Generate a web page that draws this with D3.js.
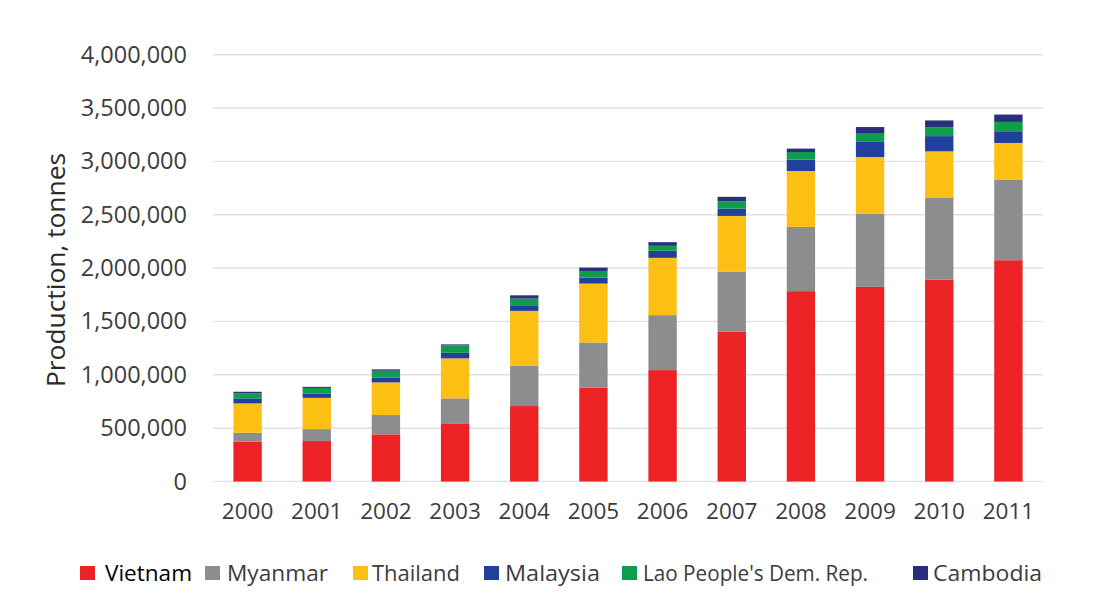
<!DOCTYPE html>
<html>
<head>
<meta charset="utf-8">
<script src="https://cdn.jsdelivr.net/npm/d3@7"></script>
<style>
  html, body { margin: 0; padding: 0; background: #fff; }
  svg { display: block; }
  text { font-family: "Open Sans", "Liberation Sans", sans-serif; }
</style>
</head>
<body>
<svg id="chart" width="1100" height="606"></svg>
<script>
// Production by country, tonnes
const years = ["2000","2001","2002","2003","2004","2005","2006","2007","2008","2009","2010","2011"];
const vietnam  = [373000, 379000, 442000, 545000, 707000, 878000, 1044000, 1403000, 1784000, 1824000, 1893000, 2074000];
const myanmar  = [84000, 112000, 181000, 234000, 377000, 425000, 515000, 562000, 602000, 687000, 764000, 756000];
const thailand = [275000, 293000, 306000, 375000, 515000, 552000, 537000, 524000, 524000, 530000, 437000, 343000];
const malaysia = [47000, 41000, 43000, 52000, 53000, 56000, 66000, 69000, 107000, 147000, 143000, 103000];
const lao      = [47000, 52000, 66000, 69000, 62000, 62000, 47000, 69000, 71000, 78000, 84000, 94000];
const cambodia = [15000, 10000, 13000, 10000, 31000, 32000, 34000, 41000, 32000, 56000, 63000, 69000];
const seriesNames = ["Vietnam", "Myanmar", "Thailand", "Malaysia", "Lao People's Dem. Rep.", "Cambodia"];
const yTicks = [0, 500000, 1000000, 1500000, 2000000, 2500000, 3000000, 3500000, 4000000];

const seriesValues = [vietnam, myanmar, thailand, malaysia, lao, cambodia];
const colors = ["#ec2224", "#8c8d8f", "#fcbf14", "#213f9c", "#0f9d4b", "#2a2f7c"];

const table = years.map((y, i) => {
  const row = { year: y };
  seriesNames.forEach((n, k) => { row[n] = seriesValues[k][i]; });
  return row;
});

const svg = d3.select("#chart");
const plot = { left: 213, right: 1043, top: 54.7, bottom: 481.5 };

const x = d3.scaleBand()
  .domain(years)
  .range([plot.left, plot.right])
  .paddingInner(0.59)
  .paddingOuter(0.295);

const y = d3.scaleLinear()
  .domain([0, 4000000])
  .range([plot.bottom, plot.top]);

// horizontal gridlines
svg.append("g")
  .selectAll("line")
  .data(yTicks)
  .join("line")
  .attr("x1", plot.left)
  .attr("x2", plot.right)
  .attr("y1", d => y(d))
  .attr("y2", d => y(d))
  .attr("stroke", "#e2e2e2")
  .attr("stroke-width", 1.5);

// y axis labels
const yAxis = d3.axisLeft(y)
  .tickValues(yTicks)
  .tickFormat(d3.format(","))
  .tickSize(0)
  .tickPadding(26);
const gy = svg.append("g")
  .attr("transform", `translate(${plot.left},0)`)
  .call(yAxis);
gy.select(".domain").remove();
gy.selectAll("text")
  .attr("font-size", 23.5)
  .attr("font-family", "'Open Sans', sans-serif")
  .attr("fill", "#3c3c3c");

// x axis labels
const xAxis = d3.axisBottom(x).tickSize(0).tickPadding(22);
const gx = svg.append("g")
  .attr("transform", `translate(0,${plot.bottom})`)
  .call(xAxis);
gx.select(".domain").remove();
gx.selectAll("text")
  .attr("font-size", 22.5)
  .attr("font-family", "'Open Sans', sans-serif")
  .attr("fill", "#3c3c3c");

// stacked bars
const stack = d3.stack().keys(seriesNames);
const layers = stack(table);

svg.append("g")
  .selectAll("g")
  .data(layers)
  .join("g")
  .attr("fill", (d, i) => colors[i])
  .selectAll("rect")
  .data(d => d)
  .join("rect")
  .attr("x", d => x(d.data.year))
  .attr("width", x.bandwidth())
  .attr("y", d => y(d[1]))
  .attr("height", d => y(d[0]) - y(d[1]));

// axis title
svg.append("text")
  .attr("transform", `translate(65,270) rotate(-90)`)
  .attr("text-anchor", "middle")
  .attr("font-size", 25)
  .attr("font-family", "'Open Sans', sans-serif")
  .attr("fill", "#2a2a2a")
  .attr("textLength", 234)
  .attr("lengthAdjust", "spacingAndGlyphs")
  .text("Production, tonnes");

// legend
const legendX = [80, 205, 353, 484, 622, 913];
const legendTextX = [105, 227, 372, 505, 643, 933];
const legendTextW = [87, 101, 88, 95, 225, 109];
const legend = svg.append("g");
seriesNames.forEach((n, i) => {
  legend.append("rect")
    .attr("x", legendX[i])
    .attr("y", 566)
    .attr("width", 15)
    .attr("height", 14)
    .attr("fill", colors[i]);
  legend.append("text")
    .attr("x", legendTextX[i])
    .attr("y", 581)
    .attr("font-size", 21)
    .attr("font-family", i === 0 ? "'Liberation Sans', sans-serif" : "'Open Sans', sans-serif")
    .attr("fill", i === 0 ? "#000" : "#3c3c3c")
    .attr("textLength", legendTextW[i])
    .attr("lengthAdjust", "spacingAndGlyphs")
    .text(n);
});
</script>
</body>
</html>
